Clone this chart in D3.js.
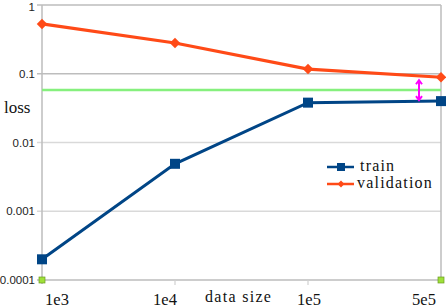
<!DOCTYPE html>
<html>
<head>
<meta charset="utf-8">
<script src="https://cdn.jsdelivr.net/npm/d3@7"></script>
<style>
  body { margin: 0; background: #fff; }
</style>
</head>
<body>
<svg></svg>
<script>
// размеры
const width = 446;
const height = 308;
const serif = "'Liberation Serif', 'DejaVu Serif', serif";

// данные
const sizes = ["1e3", "1e4", "1e5", "5e5"];
const trainLoss = [0.0002, 0.0049, 0.038, 0.040];
const validLoss = [0.53, 0.28, 0.117, 0.089];
const targetLoss = 0.058;
const yTicks = [1, 0.1, 0.01, 0.001, 0.0001];
const yTickLabels = ["1", "0.1", "0.01", "0.001", "0.0001"];

let svg = d3.select("svg")
  .attr("width", width)
  .attr("height", height);

const x = d3.scalePoint().domain(sizes).range([42, 441]);
const y = d3.scaleLog().domain([1e-4, 1]).range([280, 5]);

// сетка
svg.append("g")
  .selectAll("line")
  .data(yTicks)
  .join("line")
  .attr("x1", 37)
  .attr("x2", 441)
  .attr("y1", d => y(d))
  .attr("y2", d => y(d))
  .style("stroke", (d, i) => (i < 2 || i == 4) ? "#bdbdbd" : "#d9d9d9")
  .style("stroke-width", 1.3);

// рамка слева и справа
svg.append("line")
  .attr("x1", 42).attr("x2", 42)
  .attr("y1", y(1)).attr("y2", 284)
  .style("stroke", "#bdbdbd").style("stroke-width", 1.5);
svg.append("line")
  .attr("x1", 441).attr("x2", 441)
  .attr("y1", y(1)).attr("y2", y(1e-4))
  .style("stroke", "#bdbdbd").style("stroke-width", 1.5);

// засечки по x
svg.append("g")
  .selectAll("line")
  .data(sizes.slice(1, 3))
  .join("line")
  .attr("x1", d => x(d)).attr("x2", d => x(d))
  .attr("y1", 280).attr("y2", 285)
  .style("stroke", "#d0d0d0").style("stroke-width", 1.2);

// подписи y
svg.append("g")
  .selectAll("text")
  .data(yTicks)
  .join("text")
  .attr("x", 35)
  .attr("y", (d, i) => y(d) + (i == 0 ? 2 : 0))
  .attr("dy", "0.35em")
  .attr("text-anchor", "end")
  .attr("font-family", "'Liberation Sans', Arial, sans-serif")
  .attr("font-size", 11.5)
  .attr("fill", "#222")
  .text((d, i) => yTickLabels[i]);

// подписи x
const xLabelShift = [15, -10, 1, -17];
svg.append("g")
  .selectAll("text")
  .data(sizes)
  .join("text")
  .attr("x", (d, i) => x(d) + xLabelShift[i])
  .attr("y", 305)
  .attr("text-anchor", "middle")
  .attr("font-family", serif)
  .attr("font-size", 16.5)
  .attr("fill", "#111")
  .text(d => d);

svg.append("text")
  .attr("x", 205).attr("y", 302)
  .attr("font-family", serif)
  .attr("font-size", 16)
  .attr("letter-spacing", 1.3)
  .attr("fill", "#111")
  .text("data size");

svg.append("text")
  .attr("x", 4).attr("y", 113)
  .attr("font-family", serif)
  .attr("font-size", 17)
  .attr("fill", "#111")
  .text("loss");

// зеленая линия
svg.append("line")
  .attr("x1", 42).attr("x2", 441)
  .attr("y1", y(targetLoss)).attr("y2", y(targetLoss))
  .style("stroke", "#86f07e").style("stroke-width", 2.5);

// зеленые квадраты внизу
svg.append("g")
  .selectAll("rect")
  .data([sizes[0], sizes[3]])
  .join("rect")
  .attr("x", d => x(d) - 3).attr("y", y(1e-4) - 3)
  .attr("width", 6).attr("height", 6)
  .style("fill", "#9fe03a").style("stroke", "#6a9a20").style("stroke-width", 0.7);

const line = d3.line()
  .x(d => x(d.size))
  .y(d => y(d.v));

const trainData = sizes.map((s, i) => ({ size: s, v: trainLoss[i] }));
const validData = sizes.map((s, i) => ({ size: s, v: validLoss[i] }));

// валидация
svg.append("path")
  .attr("d", line(validData))
  .style("fill", "none").style("stroke", "#ff4a17").style("stroke-width", 3.2);
svg.append("g")
  .selectAll("path")
  .data(validData)
  .join("path")
  .attr("d", d3.symbol(d3.symbolDiamond2, 70))
  .attr("transform", d => `translate(${x(d.size)},${y(d.v)})`)
  .style("fill", "#ff4a17");

// обучение
svg.append("path")
  .attr("d", line(trainData))
  .style("fill", "none").style("stroke", "#004586").style("stroke-width", 3);
svg.append("g")
  .selectAll("rect")
  .data(trainData)
  .join("rect")
  .attr("x", d => x(d.size) - 5).attr("y", d => y(d.v) - 5)
  .attr("width", 10).attr("height", 10)
  .style("fill", "#004586");

// стрелка
const ax = 419;
const ay1 = y(validLoss[3]) + 3;
const ay2 = y(trainLoss[3]) - 1;
let arrow = svg.append("g").style("stroke", "#ff00ff").style("stroke-width", 2).style("fill", "none");
arrow.append("line").attr("x1", ax).attr("x2", ax).attr("y1", ay1).attr("y2", ay2);
arrow.append("polyline").attr("points", `${ax - 3},${ay1 + 4} ${ax},${ay1} ${ax + 3},${ay1 + 4}`);
arrow.append("polyline").attr("points", `${ax - 3},${ay2 - 4} ${ax},${ay2} ${ax + 3},${ay2 - 4}`);

// легенда
let legend = svg.append("g");
legend.append("line").attr("x1", 327).attr("x2", 354).attr("y1", 167).attr("y2", 167)
  .style("stroke", "#004586").style("stroke-width", 2.5);
legend.append("rect").attr("x", 337).attr("y", 163).attr("width", 8).attr("height", 8)
  .style("fill", "#004586");
legend.append("line").attr("x1", 327).attr("x2", 354).attr("y1", 184).attr("y2", 184)
  .style("stroke", "#ff4a17").style("stroke-width", 2.5);
legend.append("path").attr("d", d3.symbol(d3.symbolDiamond2, 30))
  .attr("transform", "translate(341,184)").style("fill", "#ff4a17");
legend.append("text").attr("x", 360).attr("y", 171).text("train");
legend.append("text").attr("x", 357).attr("y", 188).text("validation");
legend.selectAll("text")
  .attr("font-family", serif)
  .attr("font-size", 16)
  .attr("letter-spacing", 1.2)
  .attr("fill", "#111");
</script>
</body>
</html>
